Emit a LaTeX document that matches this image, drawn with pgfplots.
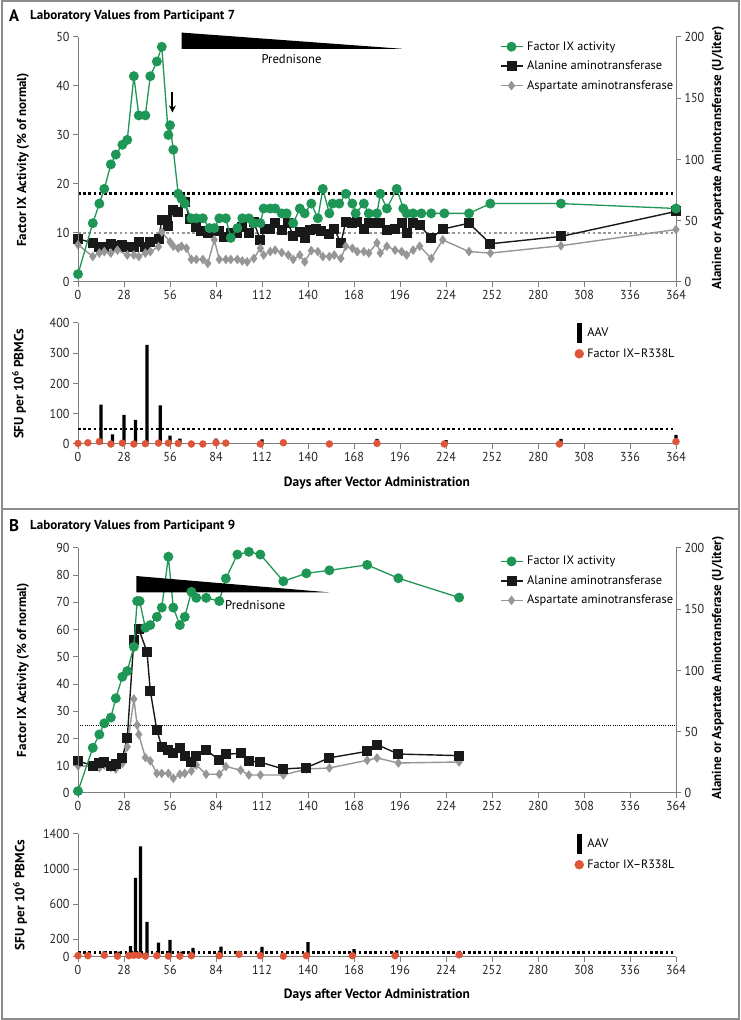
\documentclass[border=0pt]{standalone}
\usepackage{fontspec}
\setmainfont{PT Sans}
\newfontfamily\tickfamily[FakeStretch=0.93]{PT Sans}
\usepackage{pgfplots}
\pgfplotsset{compat=1.18}
\usetikzlibrary{arrows.meta}
\definecolor{fgreen}{RGB}{30,150,85}
\definecolor{agray}{RGB}{150,150,150}
\definecolor{rdot}{RGB}{222,86,58}
\definecolor{axgray}{RGB}{125,125,125}
\definecolor{framegray}{RGB}{140,140,140}
\newcommand\tickfont{\tickfamily\fontsize{13}{15}\selectfont}
\newcommand\legfont{\fontsize{12.5}{14}\selectfont}
\newcommand\fitw[2]{\resizebox{#1}{!}{#2}}
\pgfplotsset{
  mybase/.style={scale only axis, width=598pt, xmin=0, xmax=364,
    xtick={0,28,...,364}, clip=false,
    axis line style={axgray, line width=1pt},
    tick style={axgray, line width=1pt},
    major tick length=5pt, tick align=outside,
    tick label style={font=\tickfont, text=black!85},
    /pgf/number format/assume math mode=true,
    /pgf/number format/1000 sep={}},
  greenst/.style={fgreen, line width=1.3pt, mark=*, mark size=4.3pt, mark options={fill=fgreen, draw=fgreen, solid}},
  altst/.style={black!90, line width=1.4pt, mark=square*, mark size=4.3pt, mark options={fill=black!90, solid}},
  astst/.style={agray, line width=1.4pt, mark=diamond*, mark size=3.7pt, mark options={fill=agray, solid}},
  bigdots/.style={line width=2.6pt, dash pattern=on 2.6pt off 2.6pt},
  leg3/.style={legend style={draw=none, fill=none, font=\legfont, at={(0.70,1.0)}, anchor=north west,
      row sep=4.5pt, column sep=3pt, legend cell align=left, nodes={inner sep=1pt, text height=10pt, text depth=3pt}},
    legend image code/.code={\draw[mark repeat=2,mark phase=2,##1] plot coordinates {(0pt,0pt)(11pt,0pt)(22pt,0pt)};}},
  leg2/.style={legend style={draw=none, fill=none, font=\legfont, at={(0.825,1.02)}, anchor=north west,
      row sep=3pt, column sep=2pt, legend cell align=left, nodes={inner sep=1.5pt, text height=10pt, text depth=3pt}}},
}
\begin{document}
\begin{tikzpicture}[x=1pt,y=1pt]
\fill[white] (0,0) rectangle (739,1020);
\draw[framegray, line width=2pt] (1,1) rectangle (738,1019);
\draw[framegray, line width=2pt] (0,511) -- (739,511);
% headings
\node[anchor=west, inner sep=0pt] at (8,1004) {\fitw{10pt}{\bfseries A}};
\node[anchor=west, inner sep=0pt] at (29,1004) {\fitw{205pt}{\bfseries Laboratory Values from Participant 7}};
\node[anchor=west, inner sep=0pt] at (8,494) {\fitw{10pt}{\bfseries B}};
\node[anchor=west, inner sep=0pt] at (29,494) {\fitw{205pt}{\bfseries Laboratory Values from Participant 9}};
% axis labels
\node[rotate=90, inner sep=0pt] at (22,860) {\fitw{174pt}{\bfseries Factor IX Activity (\% of normal)}};
\node[rotate=90, inner sep=0pt] at (717,862) {\fitw{263pt}{\bfseries Alanine or Aspartate Aminotransferase (U/liter)}};
\node[rotate=90, inner sep=0pt] at (18,636) {\fitw{110pt}{\bfseries SFU per 10\textsuperscript{6} PBMCs}};
\node[inner sep=0pt] at (376,537) {\fitw{186pt}{\bfseries Days after Vector Administration}};
\node[rotate=90, inner sep=0pt] at (22,350) {\fitw{174pt}{\bfseries Factor IX Activity (\% of normal)}};
\node[rotate=90, inner sep=0pt] at (717,352) {\fitw{263pt}{\bfseries Alanine or Aspartate Aminotransferase (U/liter)}};
\node[rotate=90, inner sep=0pt] at (19,125) {\fitw{110pt}{\bfseries SFU per 10\textsuperscript{6} PBMCs}};
\node[inner sep=0pt] at (376,25) {\fitw{186pt}{\bfseries Days after Vector Administration}};

% ===== Panel A top: right axis (ALT, AST)
\begin{axis}[mybase, at={(77pt,738pt)}, anchor=south west, height=245pt,
  ymin=0, ymax=200, ytick={0,50,...,200}, axis x line=none, axis y line*=right, leg3]
\addplot[black, bigdots, forget plot] coordinates {(0,72) (364,72)};
\addplot[agray, bigdots, forget plot] coordinates {(0,40) (364,40)};
\addlegendimage{greenst}
\addlegendentry{\fitw{88pt}{Factor IX activity}}
\addplot[altst] coordinates {(0,35.2)(9,32)(13,28.4)(16,28.4)(20,31.2)(24,29.2)(27,30.4)(30,28.4)(34,28.4)(37,32.8)(41,28.4)(44,32.8)(49,35.2)(51,50.4)(54,50.4)(55,45.6)(58,58.4)(61,57.2)(65,65.2)(68,51.6)(72,44.8)(75,42)(79,39.6)(83,42)(86,42)(89,36.8)(93,39.6)(97,40.4)(100,44.8)(104,39.6)(107,48.8)(111,34.4)(114,43.6)(117,43.6)(120,48)(124,42.4)(128,48)(131,37.2)(135,41.2)(138,35.6)(141,42.4)(145,43.6)(148,42)(153,39.2)(156,43.6)(160,31.6)(163,49.2)(167,48)(170,49.2)(174,43.6)(177,48)(181,48)(184,48)(188,42.4)(193,43.6)(197,48)(200,39.6)(204,48)(208,46.4)(215,35.6)(222,43.2)(238,48)(251,31.2)(294,37.2)(364,57.6)};
\addlegendentry{\fitw{135pt}{Alanine aminotransferase}}
\addplot[astst] coordinates {(0,30.4)(9,20.8)(13,23.6)(16,24.8)(20,23.6)(24,26)(30,22)(34,22)(37,20.8)(41,23.6)(44,24.8)(49,28.8)(51,40.8)(56,32.8)(58,29.2)(61,27.6)(63,29.2)(66,27.6)(69,18.4)(72,18.4)(76,18.4)(79,15.2)(83,34.4)(86,18.4)(90,18.4)(93,18.4)(97,18.4)(100,17.2)(103,16.4)(107,19.2)(111,27.6)(113,22)(117,24.8)(120,26)(124,24)(128,22)(131,18.4)(135,22)(138,16.4)(142,25.6)(146,24.8)(149,20.8)(153,20.8)(156,22)(160,19.2)(163,29.2)(167,27.6)(170,24.8)(174,24.8)(177,23.6)(182,32)(184,23.6)(188,29.2)(193,26)(197,24.8)(200,22)(204,26)(208,29.2)(215,19.2)(222,34.4)(238,24.8)(251,23.6)(294,29.6)(364,42.8)};
\addlegendentry{\fitw{146pt}{Aspartate aminotransferase}}
\end{axis}
% ===== Panel A top: left axis (Factor IX)
\begin{axis}[mybase, at={(77pt,738pt)}, anchor=south west, height=245pt,
  ymin=0, ymax=50, ytick={0,10,...,50}, axis x line*=bottom, axis y line*=left]
\addplot[greenst] coordinates {(0,1.6)(9,12)(13,16)(16,19)(20,24)(23,26)(27,28)(30,29)(34,42)(37,34)(41,34)(44,42)(48,45)(51,48)(55,30)(56,32)(58,27)(61,18)(63,17)(65,16)(69,13)(72,13)(76,13)(80,11)(83,11)(86,13)(90,13)(93,9)(97,11)(100,13)(104,13)(107,12)(111,12)(113,15)(117,15)(120,15)(124,14)(127,14)(131,12)(135,15)(138,14)(142,16)(146,13)(149,19)(153,14)(155,16)(159,16)(163,18)(167,16)(169,14)(174,16)(177,14)(182,14)(184,18)(188,15)(194,19)(198,15)(200,14)(204,14)(209,14)(215,14)(223,14)(238,14)(251,16)(294,16)(364,15)};
\fill[black] (axis cs:63,50.9) -- (axis cs:63,47.6) -- (axis cs:197,47.6) -- cycle;
\node[inner sep=0pt] at (axis cs:130,45.4) {\fitw{60pt}{Prednisone}};
\draw[-{Stealth[length=7pt,width=7pt]}, line width=2pt] (axis cs:57.5,38.8) -- (axis cs:57.5,34.6);
\end{axis}

% ===== Panel A bottom
\begin{axis}[mybase, at={(77pt,576pt)}, anchor=south west, height=121pt,
  ymin=0, ymax=400, ytick={0,100,...,400}, axis x line*=bottom, axis y line*=left, leg2]
\addplot[black, bigdots, forget plot] coordinates {(0,50) (364,50)};
\addplot[ybar, bar width=2, fill=black, draw=none,
  legend image code/.code={\fill[black] (-2.5pt,-10pt) rectangle (2.5pt,10pt);}]
  coordinates {(14,130)(21,32)(28,96)(35,80)(42,328)(50,128)(56,28)(62,18)(69,5)(76,5)(84,18)(90,10)(112,15)(182,17)(224,13)(294,17)(364,30)};
\addlegendentry{\fitw{21pt}{AAV}}
\addplot[only marks, mark=*, mark size=3.5pt, mark options={fill=rdot, draw=rdot},
  legend image code/.code={\fill[rdot] (0pt,0pt) circle (4.5pt);}]
  coordinates {(0,2)(6,4)(13,8)(20,0)(27,3)(34,0)(41,1)(49,3)(55,3)(61,2)(69,0)(76,0)(84,4)(90,3)(111,0)(125,4)(153,0)(182,2)(223,0)(293,0)(364,8)};
\addlegendentry{\fitw{87pt}{Factor IX--R338L}}
\end{axis}

% ===== Panel B top: right axis
\begin{axis}[mybase, at={(77pt,227pt)}, anchor=south west, height=245pt,
  ymin=0, ymax=200, ytick={0,50,...,200}, axis x line=none, axis y line*=right, leg3,
  legend style={at={(0.70,0.985)}}]
\addplot[black, line width=0.9pt, dash pattern=on 1pt off 1.2pt, forget plot] coordinates {(0,55) (364,55)};
\addlegendimage{greenst}
\addlegendentry{\fitw{88pt}{Factor IX activity}}
\addplot[astst, forget plot] coordinates {(0,22.2)(9,21.6)(13,20.7)(16,22.9)(20,21)(23,19.6)(27,24.2)(30,37.8)(34,76.7)(36,55.6)(37,47.8)(41,28.9)(44,26.2)(48,16)(51,16)(55,16)(58,12)(62,15.3)(65,16)(69,18)(72,22.9)(78,15.3)(86,15.3)(90,21.6)(99,18.7)(104,14.7)(111,14.7)(125,14.7)(139,19.6)(153,20.4)(176,26.7)(182,28.6)(195,24.5)(232,25.3)};
\addplot[altst] coordinates {(0,26.2)(9,22.2)(13,24.2)(16,25.1)(20,22.2)(23,23.3)(27,28.9)(30,45.1)(34,125.3)(37,133.8)(42,115.3)(44,83.3)(48,51.3)(51,37.8)(55,35.1)(58,32.4)(62,36.4)(65,30.4)(69,25.6)(72,30.4)(78,35.1)(86,26.9)(90,31.6)(99,32.4)(104,26.2)(111,25.1)(125,19.6)(139,20.7)(153,28.7)(176,34)(182,39.5)(195,31.8)(232,30.5)};
\addlegendentry{\fitw{135pt}{Alanine aminotransferase}}
\addlegendimage{astst}
\addlegendentry{\fitw{146pt}{Aspartate aminotransferase}}
\end{axis}
% ===== Panel B top: left axis
\begin{axis}[mybase, at={(77pt,227pt)}, anchor=south west, height=245pt,
  ymin=0, ymax=90, ytick={0,10,...,90}, axis x line*=bottom, axis y line*=left]
\addplot[greenst] coordinates {(0,0.7)(9,16.6)(13,21.5)(16,25.6)(20,27.7)(23,34.8)(27,42.7)(30,44.8)(34,53.7)(36,70.5)(37.5,70.5)(41,60.7)(44,61.7)(48,64.7)(51,68.1)(55,86.8)(58,68.1)(62,61.7)(65,64.7)(69,73.9)(72,71.7)(78,71.7)(86,70.5)(90,78.8)(97,87.6)(104,88.6)(111,87.6)(125,77.8)(139,80.7)(153,81.8)(176,83.8)(195,78.9)(232,71.8)};
\fill[black] (axis cs:35.5,79.7) -- (axis cs:35.5,73.7) -- (axis cs:153,73.7) -- cycle;
\node[anchor=west, inner sep=0pt] at (axis cs:89.5,69) {\fitw{60pt}{Prednisone}};
\end{axis}

% ===== Panel B bottom
\begin{axis}[mybase, at={(77pt,63pt)}, anchor=south west, height=123pt,
  ymin=0, ymax=1400, ytick={0,200,600,1000,1400}, axis x line*=bottom, axis y line*=left, leg2]
\addplot[black, bigdots, forget plot] coordinates {(0,50) (364,50)};
\addplot[ybar, bar width=2, fill=black, draw=none,
  legend image code/.code={\fill[black] (-2.5pt,-10pt) rectangle (2.5pt,10pt);}]
  coordinates {(16,65)(25,60)(32,125)(35,900)(38,1260)(42,400)(49,164)(56,194)(63,61)(70,103)(87,118)(112,114)(125,40)(140,168)(168,91)(194,75)(232,70)};
\addlegendentry{\fitw{21pt}{AAV}}
\addplot[only marks, mark=*, mark size=3.5pt, mark options={fill=rdot, draw=rdot},
  legend image code/.code={\fill[rdot] (0pt,0pt) circle (4.5pt);}]
  coordinates {(0,15)(6,15)(16,20)(24,10)(31,15)(34,20)(37,20)(41,10)(48,15)(55,10)(62,10)(69,15)(86,15)(98,30)(111,15)(125,10)(139,15)(167,15)(193,15)(232,25)};
\addlegendentry{\fitw{87pt}{Factor IX--R338L}}
\end{axis}
\end{tikzpicture}
\end{document}
